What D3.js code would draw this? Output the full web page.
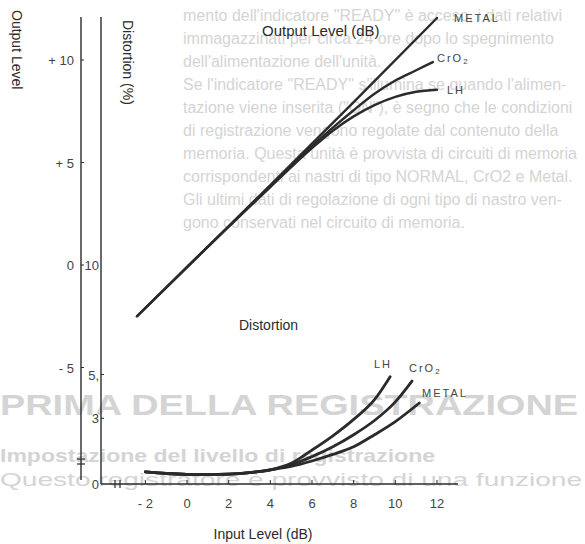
<!DOCTYPE html>
<html>
<head>
<meta charset="utf-8">
<script src="https://cdn.jsdelivr.net/npm/d3@7"></script>
<style>
body { margin:0; background:#fff; }
svg text { font-family:"Liberation Sans", Arial, Helvetica, sans-serif; }
</style>
</head>
<body>
<div id="plot" class="canvas"></div>
<script>
//Data
var inputTicks = [-2, 0, 2, 4, 6, 8, 10, 12];
var inputTickLabels = ['- 2', '0', '2', '4', '6', '8', '10', '12'];
var outputTicks = [10, 5, 0, -5];
var outputTickLabels = ['+ 10', '+ 5', '0', '- 5'];
var distTicks = [10, 5, 3, 0];
var distTickLabels = ['10', '5,', '3', '0'];

var seriesNames = ['METAL', 'CrO2', 'LH'];

//Output level (dB) against input level (dB)
var outMetalIn = [-2.4, 0, 4, 8, 12];
var outMetal = [-2.5, -0.1, 3.9, 7.95, 12.05];
var outCrIn = [-2.4, 0, 4, 6, 7, 8, 9, 10, 11, 11.8];
var outCr = [-2.5, -0.1, 3.85, 5.8, 6.7, 7.55, 8.35, 9.0, 9.5, 9.9];
var outLhIn = [-2.4, 0, 4, 6, 7, 8, 9, 10, 11, 12];
var outLh = [-2.5, -0.1, 3.8, 5.7, 6.55, 7.25, 7.8, 8.2, 8.45, 8.55];

//Distortion (%) against input level (dB)
var distLhIn = [-2, -1, 0, 1, 2, 3, 4, 5, 6, 7, 8, 9, 9.75];
var distLh = [0.55, 0.48, 0.44, 0.43, 0.45, 0.52, 0.65, 0.95, 1.55, 2.2, 2.95, 3.85, 4.9];
var distCrIn = [-2, -1, 0, 1, 2, 3, 4, 5, 6, 7, 8, 9, 10, 10.8];
var distCr = [0.55, 0.48, 0.44, 0.43, 0.45, 0.52, 0.65, 0.88, 1.25, 1.7, 2.25, 2.9, 3.75, 4.7];
var distMetalIn = [-2, -1, 0, 1, 2, 3, 4, 5, 6, 7, 8, 9, 10, 11.15];
var distMetal = [0.55, 0.48, 0.44, 0.43, 0.45, 0.52, 0.65, 0.8, 1.05, 1.35, 1.7, 2.25, 2.85, 3.7];

//Show-through text from the scanned page
var ghostLines = [
	'mento dell\'indicatore "READY" è acceso, i dati relativi',
	'immagazzinati per circa 24 ore dopo lo spegnimento',
	'dell\'alimentazione dell\'unità.',
	'Se l\'indicatore "READY" s\'illumina se quando l\'alimen-',
	'tazione viene inserita ("ON"), è segno che le condizioni',
	'di registrazione vengono regolate dal contenuto della',
	'memoria. Questa unità è provvista di circuiti di memoria',
	'corrispondenti ai nastri di tipo NORMAL, CrO2 e Metal.',
	'Gli ultimi dati di regolazione di ogni tipo di nastro ven-',
	'gono conservati nel circuito di memoria.'
];

var width = 585, height = 544;
var ink = '#2b2b2b';

var svg = d3.select('.canvas')
	.append('svg')
	.attr('width', width)
	.attr('height', height);

var x = d3.scaleLinear().domain([0, 12]).range([187, 437]);
var yOut = d3.scaleLinear().domain([0, 10]).range([265, 60]);
var yDist = d3.scaleLinear().domain([0, 10]).range([484, 265]);

//faint page text behind the chart
var ghost = svg.append('g').attr('fill', '#d4d4d4');
ghostLines.forEach(function (t, i) {
	ghost.append('text')
		.attr('x', 183)
		.attr('y', 21 + i * 23)
		.style('font-size', '16px')
		.text(t);
});
ghost.append('text').attr('x', 0).attr('y', 415)
	.attr('textLength', 578).attr('lengthAdjust', 'spacingAndGlyphs')
	.style('font-size', '30px').style('font-weight', 'bold')
	.text('PRIMA DELLA REGISTRAZIONE');
ghost.append('text').attr('x', 0).attr('y', 462)
	.attr('textLength', 435).attr('lengthAdjust', 'spacingAndGlyphs')
	.style('font-size', '19px').style('font-weight', 'bold')
	.text('Impostazione del livello di registrazione');
ghost.append('text').attr('x', 0).attr('y', 486)
	.attr('textLength', 582).attr('lengthAdjust', 'spacingAndGlyphs')
	.style('font-size', '19px')
	.text('Questo registratore è provvisto di una funzione');

var plot = svg.append('g').attr('class', 'plot');

//Output level axis
plot.append('line')
	.attr('x1', 81).attr('x2', 81).attr('y1', 17).attr('y2', 480)
	.style('stroke', ink).style('stroke-width', 1.4);
[459, 464].forEach(function (yy) {
	plot.append('line')
		.attr('x1', 77).attr('x2', 85).attr('y1', yy).attr('y2', yy)
		.style('stroke', ink).style('stroke-width', 1.2);
});
outputTicks.forEach(function (v, i) {
	plot.append('line')
		.attr('x1', 81).attr('x2', 84).attr('y1', yOut(v)).attr('y2', yOut(v))
		.style('stroke', ink);
	plot.append('text')
		.attr('x', 74).attr('y', yOut(v) + 5)
		.attr('text-anchor', 'end')
		.style('font-size', '13px').style('fill', '#444')
		.text(outputTickLabels[i]);
});

//Distortion axis
plot.append('line')
	.attr('x1', 101).attr('x2', 101).attr('y1', 17).attr('y2', 484)
	.style('stroke', ink).style('stroke-width', 1.4);
distTicks.forEach(function (v, i) {
	if (v > 0 && v < 10) {
		plot.append('line')
			.attr('x1', 101).attr('x2', 104).attr('y1', yDist(v)).attr('y2', yDist(v))
			.style('stroke', ink);
	}
	plot.append('text')
		.attr('x', 99).attr('y', yDist(v) + 5)
		.attr('text-anchor', 'end')
		.style('font-size', '13px').style('fill', '#444')
		.text(distTickLabels[i]);
});

//Input level axis
plot.append('line')
	.attr('x1', 101).attr('x2', 458).attr('y1', 484).attr('y2', 484)
	.style('stroke', ink).style('stroke-width', 1.4);
[115, 120].forEach(function (xx) {
	plot.append('line')
		.attr('x1', xx).attr('x2', xx).attr('y1', 480).attr('y2', 488)
		.style('stroke', ink).style('stroke-width', 1.2);
});
inputTicks.forEach(function (v, i) {
	plot.append('line')
		.attr('x1', x(v)).attr('x2', x(v)).attr('y1', 484).attr('y2', 480)
		.style('stroke', ink);
	plot.append('text')
		.attr('x', x(v)).attr('y', 508)
		.attr('text-anchor', 'middle')
		.style('font-size', '13px').style('fill', '#444')
		.text(inputTickLabels[i]);
});

//axis titles
plot.append('text')
	.attr('transform', 'translate(12,10) rotate(90)')
	.style('font-size', '14px').style('fill', ink)
	.text('Output Level');
plot.append('text')
	.attr('transform', 'translate(123,20) rotate(90)')
	.style('font-size', '14px').style('fill', ink)
	.text('Distortion (%)');
plot.append('text')
	.attr('x', 262).attr('y', 36)
	.style('font-size', '15px').style('fill', ink)
	.text('Output Level (dB)');
plot.append('text')
	.attr('x', 239).attr('y', 330)
	.style('font-size', '14px').style('fill', ink)
	.text('Distortion');
plot.append('text')
	.attr('x', 263).attr('y', 539)
	.attr('text-anchor', 'middle')
	.style('font-size', '14px').style('fill', ink)
	.text('Input Level (dB)');

//curves
var outLine = d3.line()
	.x(function (d) { return x(d[0]); })
	.y(function (d) { return yOut(d[1]); })
	.curve(d3.curveMonotoneX);
var distLine = d3.line()
	.x(function (d) { return x(d[0]); })
	.y(function (d) { return yDist(d[1]); })
	.curve(d3.curveMonotoneX);

var outSeries = [d3.zip(outMetalIn, outMetal), d3.zip(outCrIn, outCr), d3.zip(outLhIn, outLh)];
var distSeries = [d3.zip(distMetalIn, distMetal), d3.zip(distCrIn, distCr), d3.zip(distLhIn, distLh)];

outSeries.forEach(function (s) {
	plot.append('path')
		.attr('d', outLine(s))
		.style('fill', 'none').style('stroke', ink)
		.style('stroke-width', 2.4).style('stroke-linecap', 'round');
});
distSeries.forEach(function (s) {
	plot.append('path')
		.attr('d', distLine(s))
		.style('fill', 'none').style('stroke', ink)
		.style('stroke-width', 2.8).style('stroke-linecap', 'round');
});

//series labels
function seriesLabel(name, lx, ly) {
	var t = plot.append('text')
		.attr('x', lx).attr('y', ly)
		.style('font-size', '11px').style('fill', '#444')
		.style('letter-spacing', '2px');
	if (name == 'CrO2') {
		t.text('CrO');
		t.append('tspan').attr('dy', 2).style('font-size', '8px').text('2');
	} else {
		t.text(name);
	}
}
seriesLabel(seriesNames[0], 454, 22);
seriesLabel(seriesNames[1], 437, 62);
seriesLabel(seriesNames[2], 447, 94);
seriesLabel(seriesNames[2], 374, 368);
seriesLabel(seriesNames[1], 409, 372);
seriesLabel(seriesNames[0], 422, 397);
</script>
</body>
</html>
